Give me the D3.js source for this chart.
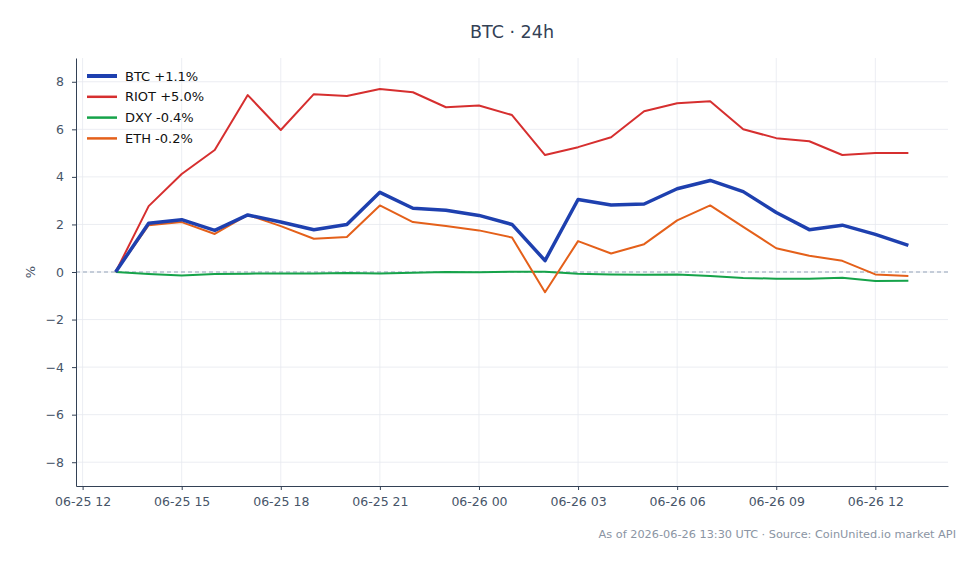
<!DOCTYPE html>
<html>
<head>
<meta charset="utf-8">
<script src="https://cdn.jsdelivr.net/npm/d3@7"></script>
<style>
  body { margin: 0; background: white; }
  svg { font-family: "DejaVu Sans", sans-serif; }
</style>
</head>
<body>
<svg id="chart"></svg>
<script>
// hourly points, 06-25 13:00 -> 06-26 13:00 UTC
var startTime = new Date(Date.UTC(2026, 5, 25, 13));
var btc  = [0, 2.05, 2.2, 1.75, 2.4, 2.1, 1.78, 2.0, 3.35, 2.68, 2.6, 2.38, 2.0, 0.48, 3.05, 2.82, 2.86, 3.5, 3.85, 3.38, 2.5, 1.78, 1.97, 1.58, 1.12];
var riot = [0, 2.77, 4.12, 5.13, 7.44, 5.97, 7.48, 7.4, 7.7, 7.56, 6.93, 7.0, 6.6, 4.92, 5.25, 5.67, 6.76, 7.1, 7.18, 6.0, 5.63, 5.5, 4.92, 5.0, 5.0];
var dxy  = [0, -0.08, -0.15, -0.08, -0.07, -0.06, -0.06, -0.04, -0.06, -0.03, 0.0, -0.01, 0.01, 0.01, -0.07, -0.1, -0.12, -0.1, -0.17, -0.25, -0.28, -0.28, -0.24, -0.38, -0.37];
var eth  = [0, 1.97, 2.1, 1.6, 2.4, 1.93, 1.4, 1.47, 2.8, 2.1, 1.93, 1.75, 1.45, -0.85, 1.3, 0.78, 1.17, 2.17, 2.8, 1.9, 1.0, 0.68, 0.47, -0.1, -0.17];

var seriesNames = ["BTC +1.1%", "RIOT +5.0%", "DXY -0.4%", "ETH -0.2%"];
var seriesColors = ["#1e40af", "#d62f2f", "#16a34a", "#e4601a"];
var seriesWidths = [3.5, 2, 2, 2];
var yTicks = [-8, -6, -4, -2, 0, 2, 4, 6, 8];

var width = 980, height = 564;
var margin = {left: 76, right: 32, top: 58, bottom: 78};

var svg = d3.select("#chart")
    .attr("width", width)
    .attr("height", height);

var times = btc.map((d, i) => new Date(startTime.getTime() + i * 3600 * 1000));
var t0 = times[0], t1 = times[times.length - 1];
var pad = (t1 - t0) * 0.05;

var xScale = d3.scaleUtc()
    .domain([new Date(t0.getTime() - pad), new Date(t1.getTime() + pad)])
    .range([margin.left, width - margin.right]);

var yScale = d3.scaleLinear()
    .domain([-9, 9])
    .range([height - margin.bottom, margin.top]);

var xTicks = d3.utcHour.every(3).range(new Date(Date.UTC(2026, 5, 25, 12)), new Date(Date.UTC(2026, 5, 26, 13)));

// grid
svg.append("g")
    .selectAll("line.vgrid")
    .data(xTicks)
    .join("line")
    .attr("x1", d => xScale(d)).attr("x2", d => xScale(d))
    .attr("y1", margin.top).attr("y2", height - margin.bottom)
    .attr("stroke", "#e6e9ef")
    .attr("stroke-width", 0.8);

svg.append("g")
    .selectAll("line.hgrid")
    .data(yTicks)
    .join("line")
    .attr("x1", margin.left).attr("x2", width - margin.right)
    .attr("y1", d => yScale(d)).attr("y2", d => yScale(d))
    .attr("stroke", "#e6e9ef")
    .attr("stroke-width", 0.8);

// zero line
svg.append("line")
    .attr("x1", margin.left).attr("x2", width - margin.right)
    .attr("y1", yScale(0)).attr("y2", yScale(0))
    .attr("stroke", "#94a3b8")
    .attr("stroke-width", 1)
    .attr("stroke-dasharray", "4,3");

// lines
var allSeries = [btc, riot, dxy, eth];
var line = d3.line()
    .x((d, i) => xScale(times[i]))
    .y(d => yScale(d));

// draw order: BTC on top
[1, 2, 3, 0].forEach(k => {
    svg.append("path")
        .datum(allSeries[k])
        .attr("fill", "none")
        .attr("stroke", seriesColors[k])
        .attr("stroke-width", seriesWidths[k])
        .attr("stroke-linejoin", "round")
        .attr("d", line);
});

// axes
var fmt = d3.utcFormat("%m-%d %H");
var xAxis = svg.append("g")
    .attr("transform", "translate(0," + (height - margin.bottom) + ")")
    .call(d3.axisBottom(xScale).tickValues(xTicks).tickFormat(fmt).tickSize(4).tickPadding(7).tickSizeOuter(0));

var yAxis = svg.append("g")
    .attr("transform", "translate(" + margin.left + ",0)")
    .call(d3.axisLeft(yScale).tickValues(yTicks).tickFormat(d => d < 0 ? "\u2212" + Math.abs(d) : d).tickSize(4).tickPadding(8).tickSizeOuter(0));

[xAxis, yAxis].forEach(ax => {
    ax.select(".domain").attr("stroke", "#334155").attr("stroke-width", 1);
    ax.selectAll(".tick line").attr("stroke", "#334155");
    ax.selectAll(".tick text").attr("fill", "#475569").style("font-size", "12.5px").style("font-family", "DejaVu Sans, sans-serif");
});

// title
svg.append("text")
    .attr("x", (margin.left + width - margin.right) / 2)
    .attr("y", 38)
    .attr("text-anchor", "middle")
    .attr("fill", "#334155")
    .style("font-size", "17.5px")
    .text("BTC \u00b7 24h");

// y label
svg.append("text")
    .attr("transform", "translate(35," + yScale(0) + ") rotate(-90)")
    .attr("text-anchor", "middle")
    .attr("fill", "#475569")
    .style("font-size", "13px")
    .text("%");

// footer
svg.append("text")
    .attr("x", 956)
    .attr("y", 538)
    .attr("text-anchor", "end")
    .attr("fill", "#8a94a3")
    .style("font-size", "11.3px")
    .text("As of 2026-06-26 13:30 UTC \u00b7 Source: CoinUnited.io market API");

// legend
var legend = svg.append("g").attr("transform", "translate(87,76)");
seriesNames.forEach((name, k) => {
    var g = legend.append("g").attr("transform", "translate(0," + (k * 20.8) + ")");
    g.append("line")
        .attr("x1", 0).attr("x2", 30)
        .attr("stroke", seriesColors[k])
        .attr("stroke-width", seriesWidths[k] + 0.5);
    g.append("text")
        .attr("x", 38)
        .attr("y", 4.5)
        .attr("fill", "#111")
        .style("font-size", "13px")
        .text(name);
});
</script>
</body>
</html>
